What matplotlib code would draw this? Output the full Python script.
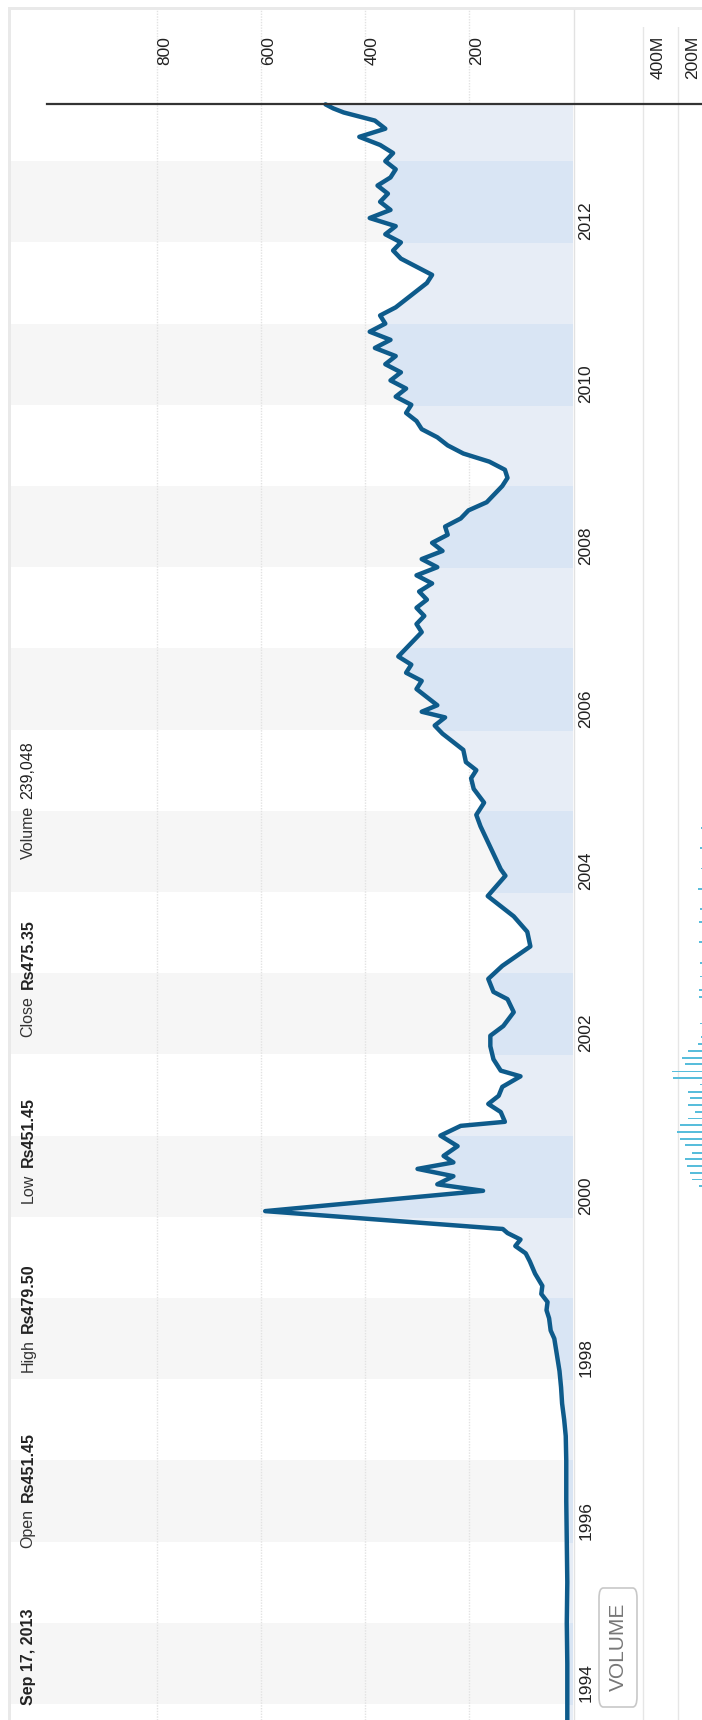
import matplotlib
matplotlib.use("Agg")
import matplotlib.pyplot as plt
from matplotlib.patches import Rectangle, FancyBboxPatch
from matplotlib.lines import Line2D

W, H = 702, 1720

# closing price, decimal year -> Rs
price_t = [1993.80, 1994.50, 1995.00, 1995.50, 1996.00, 1996.50, 1997.00, 1997.30,
           1997.50, 1997.70, 1997.90, 1998.10, 1998.30, 1998.50, 1998.60, 1998.75,
           1998.85, 1998.95, 1999.05, 1999.15, 1999.30, 1999.45, 1999.55, 1999.64,
           1999.72, 1999.80, 1999.85, 2000.07, 2000.32, 2000.40, 2000.50, 2000.59,
           2000.67, 2000.75, 2000.87, 2001.00, 2001.12, 2001.17, 2001.29, 2001.39,
           2001.49, 2001.60, 2001.73, 2001.80, 2001.94, 2002.10, 2002.23, 2002.35,
           2002.52, 2002.68, 2002.77, 2002.93, 2003.09, 2003.33, 2003.51, 2003.70,
           2003.95, 2004.20, 2004.28, 2004.62, 2004.81, 2004.95, 2005.10, 2005.27,
           2005.40, 2005.50, 2005.60, 2005.75, 2005.85, 2005.95, 2006.05, 2006.15,
           2006.22, 2006.30, 2006.40, 2006.50, 2006.60, 2006.70, 2006.80, 2006.90,
           2007.00, 2007.10, 2007.20, 2007.30, 2007.40, 2007.50, 2007.60, 2007.70,
           2007.80, 2007.90, 2008.00, 2008.10, 2008.20, 2008.30, 2008.40, 2008.50,
           2008.60, 2008.70, 2008.80, 2008.90, 2009.00, 2009.10, 2009.20, 2009.30,
           2009.40, 2009.50, 2009.60, 2009.70, 2009.80, 2009.90, 2010.00, 2010.10,
           2010.20, 2010.30, 2010.40, 2010.50, 2010.60, 2010.70, 2010.80, 2010.90,
           2011.00, 2011.10, 2011.20, 2011.30, 2011.40, 2011.50, 2011.60, 2011.70,
           2011.80, 2011.90, 2012.00, 2012.10, 2012.20, 2012.30, 2012.40, 2012.50,
           2012.60, 2012.70, 2012.80, 2012.90, 2013.00, 2013.10, 2013.20, 2013.30,
           2013.40, 2013.50, 2013.60, 2013.65, 2013.70]
price_v = [10, 10, 11, 10, 11, 12, 12, 13,
           16, 20, 22, 25, 30, 35, 42, 45,
           50, 48, 60, 58, 72, 82, 90, 110,
           100, 125, 134, 591, 172, 260, 229, 298,
           229, 248, 221, 254, 215, 130, 138, 162,
           142, 135, 100, 138, 152, 158, 158, 133,
           113, 125, 152, 162, 135, 81, 87, 113,
           163, 129, 138, 163, 177, 185, 170, 190,
           195, 185, 205, 210, 230, 250, 265, 245,
           290, 260, 280, 300, 290, 320, 310, 335,
           320, 305, 290, 300, 285, 300, 280, 295,
           270, 300, 260, 290, 250, 270, 240, 245,
           215, 200, 165, 150, 135, 125, 130, 160,
           210, 240, 260, 290, 300, 320, 310, 340,
           320, 350, 330, 360, 340, 380, 350, 390,
           360, 370, 340, 320, 300, 280, 270, 300,
           330, 345, 330, 360, 340, 390, 350, 370,
           355, 375, 350, 340, 360, 345, 370, 410,
           360, 380, 440, 460, 475]

# monthly volume, millions of shares
vol_t = [2000.38, 2000.46, 2000.54, 2000.63, 2000.71, 2000.79, 2000.88, 2000.96,
         2001.04, 2001.13, 2001.21, 2001.29, 2001.38, 2001.46, 2001.54, 2001.63,
         2001.71, 2001.79, 2001.88, 2001.96, 2002.04, 2002.13, 2002.21, 2002.29,
         2002.38, 2002.46, 2002.54, 2002.63, 2002.71, 2002.79, 2002.88, 2002.96,
         2003.04, 2003.13, 2003.21, 2003.29, 2003.38, 2003.46, 2003.54, 2003.63,
         2003.71, 2003.79, 2003.88, 2003.96, 2004.04, 2004.13, 2004.21, 2004.29,
         2004.38, 2004.46, 2004.54, 2004.63, 2004.71, 2004.79, 2004.88]
vol_m = [80, 120, 131, 150, 160, 120, 160, 189,
         208, 189, 141, 103, 141, 131, 141, 74,
         227, 236, 160, 179, 141, 84, 70, 40,
         75, 40, 35, 45, 78, 80, 40, 76,
         30, 72, 40, 35, 78, 45, 40, 82,
         30, 74, 40, 50, 85, 40, 30, 70,
         30, 40, 72, 30, 35, 70, 30]

price_ticks = [200, 400, 600, 800]
vol_ticks = [200, 400]
vol_tick_labels = ["200M", "400M"]
year_labels = [1994, 1996, 1998, 2000, 2002, 2004, 2006, 2008, 2010, 2012]

header = [
    ("Sep 17, 2013", None),
    ("Open", "Rs451.45"),
    ("High", "Rs479.50"),
    ("Low", "Rs451.45"),
    ("Close", "Rs475.35"),
    ("Volume", "239,048"),
]

NARROW = ["Liberation Sans Narrow", "Liberation Sans", "DejaVu Sans"]
SANS = ["Liberation Sans", "DejaVu Sans"]

# pixel helpers
def fx(px):
    return px / W

def fy(py):
    return 1 - py / H

# time axis: Jan 1 1994 at y=1704 px, 81.2 px per year
Y0, PXY = 1704, 81.2
def ty(t):
    return Y0 - (t - 1994) * PXY

# price axis: 0 at x=572.5 px, 0.52 px per rupee
X0, PXV = 572.5, 0.52

fig = plt.figure(figsize=(W / 100, H / 100), dpi=100)
fig.patch.set_facecolor("white")

ax = fig.add_axes([fx(11), 0, fx(573) - fx(11), fy(10)])
ax.set_ylim(1994 - (H - Y0) / PXY, 1994 + (Y0 - 10) / PXY)
ax.set_xlim((X0 - 11) / PXV, (X0 - 573) / PXV)
ax.axis("off")

# alternating year bands
for yr in range(1994, 2013, 2):
    ax.axhspan(yr, yr + 1, color="#f6f6f6", lw=0, zorder=0)

for v in price_ticks:
    ax.axvline(v, color="#e2e2e2", lw=1, ls=(0, (1, 1)), zorder=0.5)

ax.fill_betweenx(price_t, price_v, 0, color="#e7edf6", lw=0, zorder=1)
for yr in range(1994, 2013, 2):
    p = ax.fill_betweenx(price_t, price_v, 0, color="#d9e5f4", lw=0, zorder=1.1)
    p.set_clip_path(Rectangle((0, yr), 2000, 1, transform=ax.transData))

ax.plot(price_v, price_t, color="#0e5b8b", lw=3.2, solid_joinstyle="round",
        solid_capstyle="round", zorder=3)

# volume panel (zero sits just past the right edge)
vax = fig.add_axes([fx(574), 0, fx(713) - fx(574), fy(27)])
vax.set_ylim(1994 - (H - Y0) / PXY, 1994 + (Y0 - 27) / PXY)
vax.set_xlim(200 * (713 - 574) / 35, 0)
vax.axis("off")
for v in vol_ticks:
    vax.axvline(v, color="#e6e6e6", lw=1, zorder=0)
vax.barh(vol_t, vol_m, height=0.022, color="#58bddb", lw=0, zorder=2)

# frame, divider, latest-date line
fig.add_artist(Rectangle((fx(8), fy(10)), 1, 3 / H, transform=fig.transFigure,
                         color="#e9e9e9", lw=0))
fig.add_artist(Rectangle((fx(8), 0), 3 / W, fy(10), transform=fig.transFigure,
                         color="#e9e9e9", lw=0))
fig.add_artist(Line2D([fx(573.5)] * 2, [fy(10), 0], color="#e2e2e2", lw=1))
fig.add_artist(Line2D([fx(47), 1], [fy(104)] * 2, color="#333333", lw=1.6))

# labels
for v in price_ticks:
    fig.text(fx(X0 - v * PXV + 8), fy(36), str(v), rotation=90, ha="center",
             va="top", fontsize=12.5, family=NARROW, color="#222222")
for v, lab in zip(vol_ticks, vol_tick_labels):
    xp = 713 - v * 35 / 200 + 15
    fig.text(fx(xp), fy(36), lab, rotation=90, ha="center", va="top",
             fontsize=12.5, family=NARROW, color="#222222")
for yr in year_labels:
    fig.text(fx(586), fy(ty(yr) - 2), str(yr), rotation=90, ha="center",
             va="bottom", fontsize=12.5, family=NARROW, color="#222222")

# header, laid out bottom to top
renderer = fig.canvas.get_renderer()
y = 1705
for lab, val in header:
    bold = val is None
    t1 = fig.text(fx(28), fy(y), lab, rotation=90, ha="center", va="bottom",
                  fontsize=11.5, fontweight="bold" if bold else "normal",
                  family=SANS, color="#222222" if bold else "#333333")
    y -= t1.get_window_extent(renderer).height
    if val is not None:
        y -= 7
        t2 = fig.text(fx(28), fy(y), val, rotation=90, ha="center", va="bottom",
                      fontsize=11.5,
                      fontweight="bold" if val.startswith("Rs") else "normal",
                      family=SANS, color="#222222")
        y -= t2.get_window_extent(renderer).height
    y -= 60

# volume toggle button
fig.add_artist(FancyBboxPatch((fx(599), fy(1707)), fx(637) - fx(599), (1707 - 1588) / H,
                              boxstyle="round,pad=0,rounding_size=0.006",
                              transform=fig.transFigure, facecolor="white",
                              edgecolor="#c8c8c8", lw=1.2))
fig.text(fx(618), fy(1647), "VOLUME", rotation=90, ha="center", va="center",
         fontsize=15, family=SANS, color="#777777")

fig.savefig("out.png", dpi=100, facecolor="white")
